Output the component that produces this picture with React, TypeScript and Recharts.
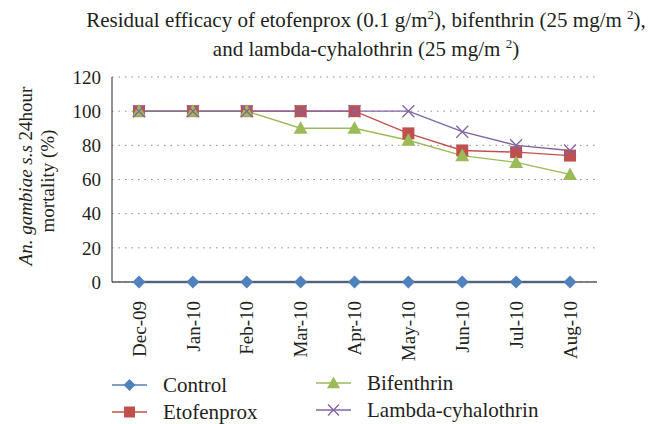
import React from 'react';
import { CartesianGrid, Line, LineChart, XAxis, YAxis } from 'recharts';

const months = ['Dec-09', 'Jan-10', 'Feb-10', 'Mar-10', 'Apr-10', 'May-10', 'Jun-10', 'Jul-10', 'Aug-10'];
const control = [0, 0, 0, 0, 0, 0, 0, 0, 0];
const etofenprox = [100, 100, 100, 100, 100, 87, 77, 76, 74];
const bifenthrin = [100, 100, 100, 90, 90, 83, 74, 70, 63];
const lambda = [100, 100, 100, 100, 100, 100, 88, 80, 77];
const yTicks = [0, 20, 40, 60, 80, 100, 120];

const data = months.map((month, i) => ({
  month,
  control: control[i],
  etofenprox: etofenprox[i],
  bifenthrin: bifenthrin[i],
  lambda: lambda[i],
}));

const FONT = '"Liberation Serif", "DejaVu Serif", serif';
const TEXT = '#231f20';
const BLUE = '#4f81bd';
const RED = '#c0504d';
const GREEN = '#9bbb59';
const PURPLE = '#8064a2';

// markers take "s" (half size) so Recharts' own r prop doesn't clobber it
const Diamond = ({ cx, cy, s }: any) => (
  <path d={`M${cx},${cy - s}L${cx + s},${cy}L${cx},${cy + s}L${cx - s},${cy}Z`} fill={BLUE} />
);
const Square = ({ cx, cy, s }: any) => (
  <rect x={cx - s} y={cy - s} width={s * 2} height={s * 2} fill={RED} />
);
const Triangle = ({ cx, cy, s }: any) => (
  <path d={`M${cx},${cy - s}L${cx + s},${cy + s * 0.8}L${cx - s},${cy + s * 0.8}Z`} fill={GREEN} />
);
const Cross = ({ cx, cy, s }: any) => (
  <path d={`M${cx - s},${cy - s}L${cx + s},${cy + s}M${cx + s},${cy - s}L${cx - s},${cy + s}`} stroke={PURPLE} strokeWidth={1.3} fill="none" />
);

const dotOf = (Shape: any, s: number) => (p: any) => <Shape key={p.index} cx={p.cx} cy={p.cy} s={s} />;

const XTick = ({ x, y, payload }: any) => (
  <text
    transform={`translate(${x},${y + 19}) rotate(-90)`}
    textAnchor="end"
    dy="0.35em"
    fontFamily={FONT}
    fontSize={19}
    fill={TEXT}
  >
    {payload.value}
  </text>
);

const legendItems = [
  { name: 'Control', color: BLUE, Shape: Diamond, left: 112, top: 385, s: 6 },
  { name: 'Etofenprox', color: RED, Shape: Square, left: 112, top: 412, s: 5.5 },
  { name: 'Bifenthrin', color: GREEN, Shape: Triangle, left: 316, top: 383, s: 6.5 },
  { name: 'Lambda-cyhalothrin', color: PURPLE, Shape: Cross, left: 316, top: 410, s: 5.5 },
];

const sup = { fontSize: 13, lineHeight: 0 };

export default function App() {
  return (
    <div style={{ position: 'absolute', left: 0, top: 0, width: 660, height: 424, background: '#fff', fontFamily: FONT, color: TEXT }}>
      <div style={{ position: 'absolute', left: 66, top: 6, width: 600, textAlign: 'center', fontSize: 21, lineHeight: '29px' }}>
        Residual efficacy of etofenprox (0.1 g/m<sup style={sup}>2</sup>), bifenthrin (25 mg/m <sup style={sup}>2</sup>),
        <br />
        and lambda-cyhalothrin (25 mg/m <sup style={sup}>2</sup>)
      </div>
      <LineChart width={660} height={424} data={data} margin={{ top: 77, right: 63, bottom: 62, left: 0 }}>
        <CartesianGrid vertical={false} stroke="#8c8c8c" strokeDasharray="1.5 5" />
        <XAxis
          dataKey="month"
          height={80}
          padding={{ left: 27, right: 27 }}
          tickLine={false}
          tickSize={0}
          tickMargin={0}
          axisLine={{ stroke: '#595959', strokeWidth: 1.3 }}
          tick={<XTick />}
          interval={0}
        />
        <YAxis
          width={112}
          domain={[0, 120]}
          ticks={yTicks}
          tickLine={false}
          tickSize={0}
          tickMargin={11}
          axisLine={{ stroke: '#595959', strokeWidth: 1.3 }}
          tick={{ fontFamily: FONT, fontSize: 19, fill: TEXT }}
        />
        <Line dataKey="control" stroke={BLUE} strokeWidth={2.5} dot={dotOf(Diamond, 6.5)} activeDot={false} isAnimationActive={false} />
        <Line dataKey="etofenprox" stroke={RED} strokeWidth={1.4} dot={dotOf(Square, 6)} activeDot={false} isAnimationActive={false} />
        <Line dataKey="bifenthrin" stroke={GREEN} strokeWidth={1.4} dot={dotOf(Triangle, 7)} activeDot={false} isAnimationActive={false} />
        <Line dataKey="lambda" stroke={PURPLE} strokeWidth={1.4} dot={dotOf(Cross, 6)} activeDot={false} isAnimationActive={false} />
      </LineChart>
      <svg width={660} height={424} style={{ position: 'absolute', left: 0, top: 0, pointerEvents: 'none' }}>
        <text transform="translate(25,176) rotate(-90)" textAnchor="middle" dy="0.35em" fontFamily={FONT} fontSize={19} fill={TEXT}>
          <tspan fontStyle="italic">An. gambiae s.s</tspan> 24hour
        </text>
        <text transform="translate(47,181) rotate(-90)" textAnchor="middle" dy="0.35em" fontFamily={FONT} fontSize={19} fill={TEXT}>
          mortality (%)
        </text>
        {legendItems.map(({ name, color, Shape, left, top, s }) => (
          <g key={name}>
            <line x1={left} x2={left + 35} y1={top} y2={top} stroke={color} strokeWidth={1.5} />
            <Shape cx={left + 17.5} cy={top} s={s} />
            <text x={left + 51} y={top} dy="0.35em" fontFamily={FONT} fontSize={21} fill={TEXT}>
              {name}
            </text>
          </g>
        ))}
      </svg>
    </div>
  );
}
